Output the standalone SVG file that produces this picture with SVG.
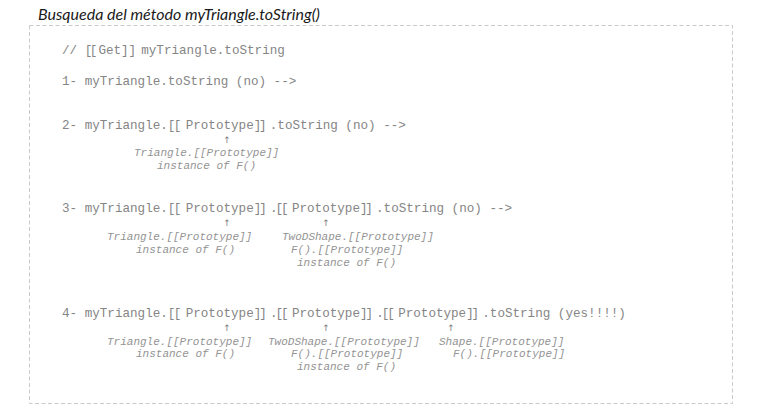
<svg xmlns="http://www.w3.org/2000/svg" width="769" height="419" viewBox="0 0 769 419">
<style>
.title{font-family:Lato,"Liberation Sans",sans-serif;font-style:italic;font-size:15px;fill:#1a1a1a}
.code{font-family:"Liberation Mono","Courier New",monospace;font-size:12.6px;fill:#858585}
.lab{font-family:"Liberation Mono","Courier New",monospace;font-style:italic;font-size:11px;fill:#939393}
.arr{font-family:"DejaVu Sans",sans-serif;font-size:9px;fill:#7c7c7c;text-anchor:middle}
.ob{letter-spacing:-1.6px}
.mid{letter-spacing:-2.1px}
.cb{letter-spacing:-2.2px}
.frame{fill:none;stroke:#cacaca;stroke-width:1;stroke-dasharray:4 2.5}
</style>
<rect width="769" height="419" fill="#ffffff"/>
<text class="title" x="38" y="20" textLength="282" lengthAdjust="spacingAndGlyphs">Busqueda del método myTriangle.toString()</text>
<rect class="frame" x="29.5" y="25.5" width="703" height="378"/>

<g id="header">
<text class="code" x="62" y="54">// <tspan style="letter-spacing:-2.5px">[[</tspan><tspan style="letter-spacing:-4px"> </tspan>Get]]<tspan style="letter-spacing:-2.5px">  </tspan>myTriangle.toString</text>
</g>

<g id="step1">
<text class="code" x="62" y="85">1- myTriangle.toString (no) --&gt;</text>
</g>

<g id="step2">
<text class="code" x="62" y="129">2- myTriangle.<tspan class="ob">[[ </tspan>Prototype<tspan class="cb">]] </tspan>.toString (no) --&gt;</text>
<text class="lab" x="134" y="156">Triangle.[[Prototype]]</text>
<text class="lab" x="157" y="169">instance of F()</text>
</g>

<g id="step3">
<text class="code" x="62" y="212">3- myTriangle.<tspan class="ob">[[ </tspan>Prototype<tspan class="mid">]] .[[ </tspan>Prototype<tspan class="cb">]] </tspan>.toString (no) --&gt;</text>
<text class="lab" x="107" y="240">Triangle.[[Prototype]]</text>
<text class="lab" x="136" y="253">instance of F()</text>
<text class="lab" x="282" y="240">TwoDShape.[[Prototype]]</text>
<text class="lab" x="291" y="253">F().[[Prototype]]</text>
<text class="lab" x="297" y="266">instance of F()</text>
</g>

<g id="step4">
<text class="code" x="62" y="317">4- myTriangle.<tspan class="ob">[[ </tspan>Prototype<tspan class="mid">]] .[[ </tspan>Prototype<tspan class="mid">]] .[[ </tspan>Prototype<tspan class="cb">]] </tspan>.toString (yes!!!!)</text>
<text class="lab" x="107" y="345">Triangle.[[Prototype]]</text>
<text class="lab" x="136" y="357">instance of F()</text>
<text class="lab" x="268" y="345">TwoDShape.[[Prototype]]</text>
<text class="lab" x="291" y="357">F().[[Prototype]]</text>
<text class="lab" x="297" y="370">instance of F()</text>
<text class="lab" x="439" y="345">Shape.[[Prototype]]</text>
<text class="lab" x="453" y="357">F().[[Prototype]]</text>
</g>

<g id="connectors">
<text class="arr" x="227" y="143">↑</text>
<text class="arr" x="227" y="226">↑</text>
<text class="arr" x="326" y="226">↑</text>
<text class="arr" x="227" y="331">↑</text>
<text class="arr" x="326" y="331">↑</text>
<text class="arr" x="451" y="331">↑</text>
</g>
</svg>
